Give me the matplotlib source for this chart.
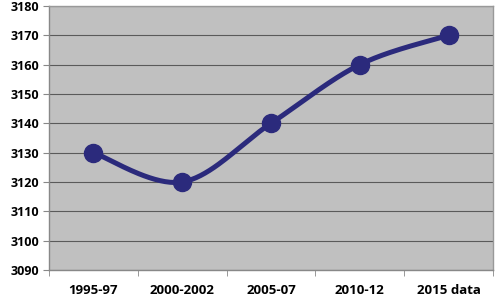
import numpy as np
import matplotlib.pyplot as plt
from matplotlib.ticker import FixedLocator, MultipleLocator

periods = ['1995-97', '2000-2002', '2005-07', '2010-12', '2015 data']
values = [3130, 3120, 3140, 3160, 3170]

navy = '#2B2A7C'
grid_col = '#5a5a5a'

plt.rcParams['font.family'] = ['Open Sans', 'DejaVu Sans']
plt.rcParams['font.weight'] = 'bold'

fig = plt.figure(figsize=(5, 2.97), dpi=100)
ax = fig.add_axes([0.098, 0.091, 0.888, 0.889])
ax.set_facecolor('#c0c0c0')

# Excel-style smoothed line (Catmull-Rom through the data points)
x = np.arange(len(values), dtype=float)
y = np.array(values, dtype=float)
xs, ys = [], []
px = np.concatenate([[x[0]], x, [x[-1]]])
py = np.concatenate([[y[0]], y, [y[-1]]])
for i in range(1, len(px) - 2):
    t = np.linspace(0, 1, 40)
    p0, p1, p2, p3 = [np.array([px[j], py[j]]) for j in range(i - 1, i + 3)]
    c1 = p1 + (p2 - p0) / 6
    c2 = p2 - (p3 - p1) / 6
    pts = (((1 - t) ** 3)[:, None] * p1 + (3 * (1 - t) ** 2 * t)[:, None] * c1
           + (3 * (1 - t) * t ** 2)[:, None] * c2 + (t ** 3)[:, None] * p2)
    xs.extend(pts[:, 0])
    ys.extend(pts[:, 1])

ax.plot(xs, ys, color=navy, lw=3.6, solid_capstyle='round', zorder=3)
ax.plot(x, y, 'o', color=navy, ms=13, zorder=4)

ax.set_xlim(-0.5, len(values) - 0.5)
ax.set_ylim(3090, 3180)
ax.yaxis.set_major_locator(MultipleLocator(10))
ax.grid(axis='y', color=grid_col, lw=0.8)
ax.set_axisbelow(True)

ax.set_xticks(x)
ax.set_xticklabels(periods)
ax.xaxis.set_minor_locator(FixedLocator(np.arange(-0.5, len(values), 1.0)))
ax.tick_params(axis='x', which='major', length=0, pad=10, labelsize=9.5)
ax.tick_params(axis='x', which='minor', length=4, color='#888888')
ax.tick_params(axis='y', length=4, color='#888888', labelsize=9, pad=3)

for s in ['top', 'right']:
    ax.spines[s].set_color('#999999')
for s in ['left', 'bottom']:
    ax.spines[s].set_color('#888888')
for s in ax.spines.values():
    s.set_linewidth(1)

fig.savefig('out.png', dpi=100)
